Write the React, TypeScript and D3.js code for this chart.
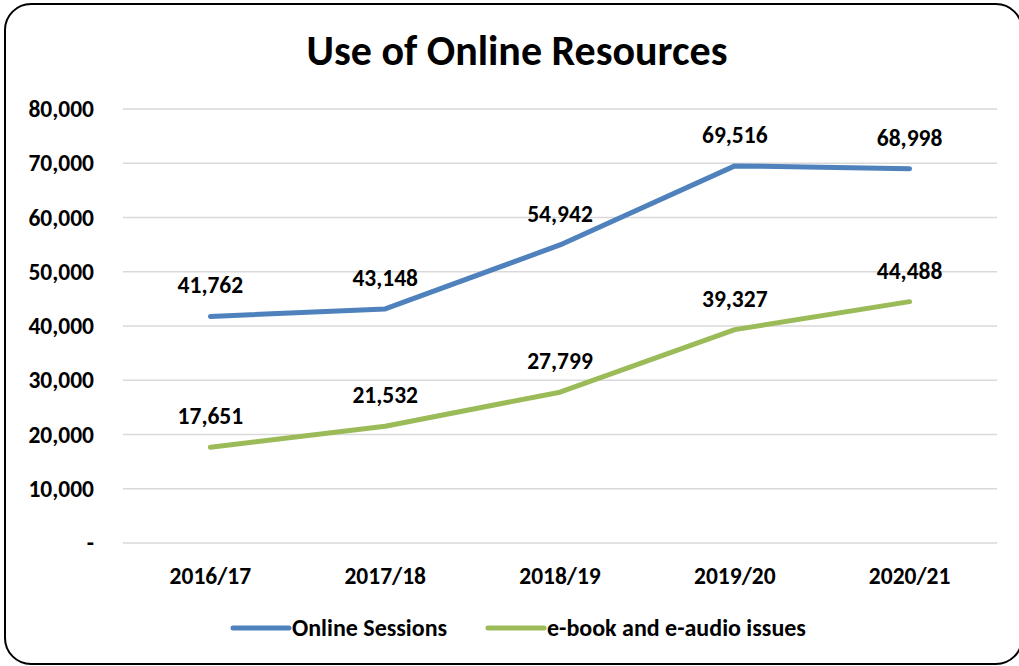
import React from "react";
import * as d3 from "d3";

const categories = ["2016/17", "2017/18", "2018/19", "2019/20", "2020/21"];
const onlineSessions = [41762, 43148, 54942, 69516, 68998];
const ebookIssues = [17651, 21532, 27799, 39327, 44488];
const yTicks = [0, 10000, 20000, 30000, 40000, 50000, 60000, 70000, 80000];
const seriesNames = ["Online Sessions", "e-book and e-audio issues"];
const seriesColors = ["#4F81BD", "#9BBB59"];

const W = 1019;
const H = 666;
const FONT = "Carlito, Calibri, Lato, 'Open Sans', sans-serif";

export default function App() {
  const x = d3.scaleBand<string>().domain(categories).range([123, 997]);
  const y = d3.scaleLinear().domain([0, 80000]).range([543, 109]);
  const fmt = d3.format(",");
  const line = d3
    .line<number>()
    .x((_, i) => (x(categories[i]) as number) + x.bandwidth() / 2)
    .y((d) => y(d));
  const series = [onlineSessions, ebookIssues];
  const legendX = [233, 488];

  return (
    <svg
      width={W}
      height={H}
      style={{ position: "absolute", left: 0, top: 0, fontFamily: FONT }}
    >
      <rect x={0} y={0} width={W} height={H} fill="#fff" />
      <rect
        x={5}
        y={4}
        width={1017}
        height={660}
        rx={26}
        ry={26}
        fill="#fff"
        stroke="#000"
        strokeWidth={2}
      />
      <text
        x={517}
        y={65}
        textAnchor="middle"
        fontSize={42}
        fontWeight="bold"
        fill="#000"
      >
        Use of Online Resources
      </text>
      {yTicks.map((t) => (
        <g key={t}>
          <line
            x1={123}
            x2={997}
            y1={y(t)}
            y2={y(t)}
            stroke="#d9d9d9"
            strokeWidth={1.5}
          />
          <text
            x={94}
            y={y(t) + 8}
            textAnchor="end"
            fontSize={23.5}
            fontWeight="bold"
            fill="#000"
          >
            {t === 0 ? "-" : fmt(t)}
          </text>
        </g>
      ))}
      {categories.map((c) => (
        <text
          key={c}
          x={(x(c) as number) + x.bandwidth() / 2}
          y={584}
          textAnchor="middle"
          fontSize={23.5}
          fontWeight="bold"
          fill="#000"
        >
          {c}
        </text>
      ))}
      {series.map((s, si) => (
        <g key={si}>
          <path
            d={line(s) || ""}
            fill="none"
            stroke={seriesColors[si]}
            strokeWidth={5}
            strokeLinecap="round"
            strokeLinejoin="round"
          />
          {s.map((v, i) => (
            <text
              key={i}
              x={(x(categories[i]) as number) + x.bandwidth() / 2}
              y={y(v) - 23}
              textAnchor="middle"
              fontSize={23.5}
              fontWeight="bold"
              fill="#000"
            >
              {fmt(v)}
            </text>
          ))}
        </g>
      ))}
      {seriesNames.map((n, i) => {
        const lx = legendX[i];
        return (
          <g key={n}>
            <line
              x1={lx}
              x2={lx + 56}
              y1={628}
              y2={628}
              stroke={seriesColors[i]}
              strokeWidth={5}
              strokeLinecap="round"
            />
            <text
              x={lx + 59}
              y={636}
              fontSize={24}
              fontWeight="bold"
              fill="#000"
            >
              {n}
            </text>
          </g>
        );
      })}
    </svg>
  );
}
